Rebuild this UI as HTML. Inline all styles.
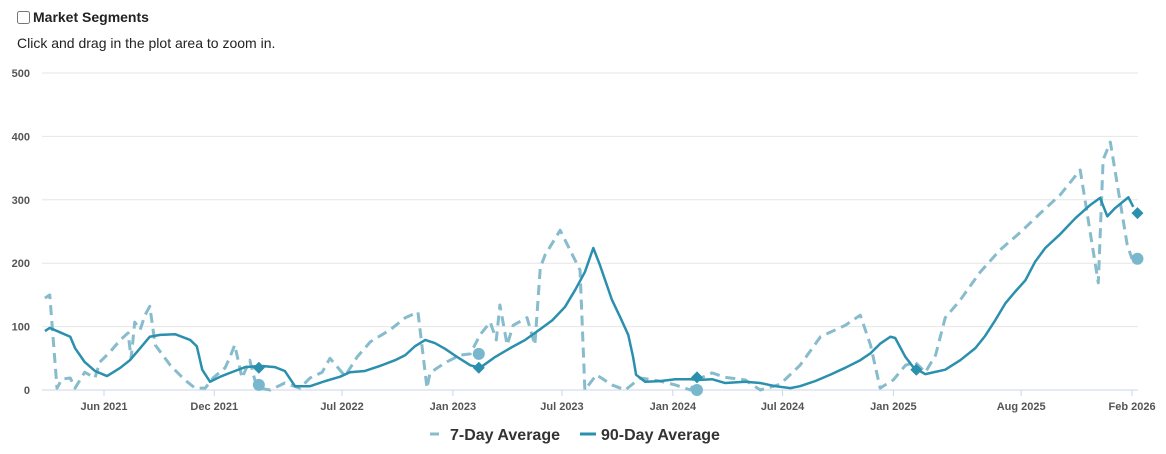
<!DOCTYPE html>
<html><head><meta charset="utf-8"><style>
body{margin:0;background:#fff;font-family:"Liberation Sans",Arial,sans-serif;}
#wrap{position:relative;width:1166px;height:454px;overflow:hidden}
</style></head><body><div id="wrap">
<label style="position:absolute;left:17px;top:9px;font-size:14px;font-weight:bold;color:#222;display:flex;align-items:center">
<input type="checkbox" style="margin:0 3px 0 0;width:13px;height:13px">Market Segments</label>
<div style="position:absolute;left:17px;top:35px;font-size:14px;color:#222">Click and drag in the plot area to zoom in.</div>
<svg id="chart" width="1166" height="454" style="position:absolute;left:0;top:0"></svg>
</div>
<script>
const yTicks=[0,100,200,300,400,500];
const xTickLabels=["Jun 2021","Dec 2021","Jul 2022","Jan 2023","Jul 2023","Jan 2024","Jul 2024","Jan 2025","Aug 2025","Feb 2026"];
const xTickDays=[0,183,395,579,760,944,1126,1310,1522,1706];
// days since 2021-06-01
const days7=[-98,-90,-78,-70,-56,-48,-32,-15,-7,10,27,40,45,51,60,68,76,85,110,134,151,168,181,201,209,217,229,242,251,256,276,300,325,342,362,375,400,420,442,475,500,521,536,541,566,591,608,624,641,651,657,669,679,702,715,724,732,757,790,798,817,843,865,890,923,948,973,984,1009,1031,1064,1089,1122,1155,1189,1230,1255,1272,1288,1310,1330,1346,1363,1380,1396,1421,1454,1487,1521,1554,1587,1620,1650,1658,1670,1698,1706,1715];
const vals7=[145,150,3,17,19,3,28,19,44,60,79,90,50,107,95,118,132,71,39,16,3,3,19,35,52,71,19,47,13,3,0,11,3,19,28,50,22,52,76,95,114,123,3,27,43,55,57,87,107,79,134,71,102,114,71,193,213,252,189,0,24,8,0,19,14,8,0,16,27,20,16,0,9,39,84,102,118,71,3,16,39,44,28,55,114,142,186,221,249,279,308,347,169,363,391,229,207];
const days90=[-98,-90,-73,-56,-48,-32,-15,5,27,43,60,76,93,118,143,154,163,176,193,209,234,259,284,300,317,342,367,392,408,433,458,483,500,516,533,549,566,583,608,624,649,674,699,724,744,765,782,798,812,823,843,857,870,878,883,898,923,948,973,989,1009,1031,1064,1089,1114,1139,1155,1180,1205,1230,1255,1272,1288,1305,1313,1330,1343,1363,1396,1421,1446,1462,1479,1496,1512,1529,1545,1562,1587,1612,1637,1653,1665,1678,1700,1708];
const vals90=[93,98,91,84,66,44,30,22,35,47,66,84,87,88,79,69,32,13,21,27,36,38,36,30,6,6,14,21,28,30,38,47,55,69,79,74,65,54,39,35,52,66,79,96,110,131,158,186,224,197,142,114,87,52,24,13,14,17,17,16,17,11,13,11,6,3,6,14,24,35,47,58,73,84,82,52,36,25,32,47,66,85,110,137,155,173,202,224,246,271,292,303,274,287,304,289];
const markerDays=[257,622,984,1348,1715];
const markers90=[35,35,20,32,279];
const markers7=[8,57,0,null,207];

const svg=document.getElementById('chart');const NS='http://www.w3.org/2000/svg';
const X=d=>104+d*0.6026, Y=v=>390-v*0.634;
function el(t,a){const e=document.createElementNS(NS,t);for(const k in a)e.setAttribute(k,a[k]);svg.appendChild(e);return e;}
yTicks.forEach(v=>{
 const g=el('line',{x1:42,x2:1138,y1:Y(v),y2:Y(v),stroke:v===0?'#ccd6eb':'#e6e6e6','stroke-width':1});
 
 
 const t=el('text',{x:30,y:Y(v)+4,'text-anchor':'end','font-size':11,fill:'#555','font-weight':'bold'});t.textContent=v;
 
 
});
xTickLabels.forEach((l,i)=>{
 const x=X(xTickDays[i]);
 const tk=el('line',{x1:x,x2:x,y1:390,y2:396,stroke:'#ccd6eb'});
 
 
 const t=el('text',{x:x,y:410,'text-anchor':'middle','font-size':11,fill:'#555','font-weight':'bold'});t.textContent=l;
 
 
});
const p7=el('polyline',{points:days7.map((d,i)=>X(d)+','+Y(vals7[i])).join(' '),fill:'none',stroke:'#86bccc','stroke-width':3,'stroke-dasharray':'10,6','stroke-linejoin':'round'});


const p90=el('polyline',{points:days90.map((d,i)=>X(d)+','+Y(vals90[i])).join(' '),fill:'none',stroke:'#2b8fae','stroke-width':2.5,'stroke-linejoin':'round'});


markerDays.forEach((d,i)=>{
 if(markers7[i]!==null){const c=el('circle',{cx:X(d),cy:Y(markers7[i]),r:6,fill:'#78b7cc'});
 
 }
 const x=X(d),y=Y(markers90[i]);
 const m=el('polygon',{points:`${x},${y-6} ${x+6},${y} ${x},${y+6} ${x-6},${y}`,fill:'#2b8fae'});
 
 
});
const l1=el('line',{x1:430,x2:439,y1:434,y2:434,stroke:'#86bccc','stroke-width':3});


const t1=el('text',{x:450,y:440,'font-size':16,'font-weight':'bold',fill:'#333'});t1.textContent='7-Day Average';


const l2=el('line',{x1:580,x2:596,y1:434,y2:434,stroke:'#2b8fae','stroke-width':3});


const t2=el('text',{x:601,y:440,'font-size':16,'font-weight':'bold',fill:'#333'});t2.textContent='90-Day Average';


</script></body></html>
